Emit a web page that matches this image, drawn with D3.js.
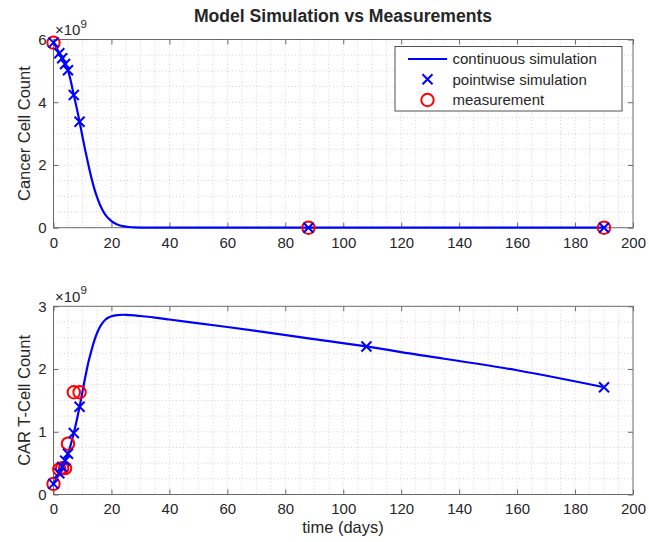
<!DOCTYPE html>
<html><head><meta charset="utf-8">
<script src="https://cdn.jsdelivr.net/npm/d3@7"></script>
<style>
body{margin:0;background:#fff}
svg{display:block}
text{font-family:"Liberation Sans",Arial,Helvetica,sans-serif;fill:#262626}
</style>
</head><body>
<svg id="c" width="649" height="542"></svg>
<script>
// ---- data (values in units of 1e9 cells, time in days) ----
const simTime   = [0,1,2,3,4,5,6,7,8,9,10,11,12,13,14,15,16,17,18,19,20,22,24,26,28,30,35,40,60,88,108,120,160,190];
const cancerSim = [5.90,5.75,5.56,5.40,5.22,5.02,4.66,4.23,3.82,3.38,2.90,2.45,2.02,1.62,1.27,0.98,0.74,0.55,0.40,0.29,0.21,0.10,0.05,0.022,0.010,0.005,0.001,0,0,0,0,0,0,0];
const tcellSim  = [0.17,0.25,0.34,0.44,0.54,0.65,0.80,0.98,1.18,1.40,1.64,1.88,2.10,2.28,2.44,2.57,2.67,2.74,2.79,2.82,2.84,2.86,2.865,2.86,2.855,2.845,2.82,2.79,2.67,2.49,2.36,2.27,1.98,1.71];

const cancerPtTime = [0,2,3,4,5,7,9,88,190];
const cancerPt     = [5.90,5.56,5.40,5.22,5.02,4.23,3.38,0,0];
const tcellPtTime  = [0,2,3,4,5,7,9,108,190];
const tcellPt      = [0.17,0.34,0.44,0.54,0.65,0.98,1.40,2.36,1.71];

const cancerMeasTime = [0,88,190];
const cancerMeas     = [5.90,0,0];
const tcellMeasTime  = [0,2,3,4,5,7,9];
const tcellMeas      = [0.17,0.40,0.42,0.42,0.81,1.63,1.63];

const xTicks = [0,20,40,60,80,100,120,140,160,180,200];
const cancerTicks = [0,2,4,6];
const tcellTicks = [0,1,2,3];

const titleText = "Model Simulation vs Measurements";
const legendLabels = ["continuous simulation","pointwise simulation","measurement"];

// ---- drawing ----
const svg = d3.select('#c');
const BLUE = '#0000ff', RED = '#ff0000', AX = '#6a6a6a';
const x = d3.scaleLinear().domain([0,200]).range([53.5,633]);
const fmt = d3.format('d');

function zip(a,b){ return a.map((v,i)=>[v,b[i]]); }

function panel(o){
  const y = d3.scaleLinear().domain(o.ydom).range(o.yr);
  const g = svg.append('g');
  const [x0,x1] = x.range(), [yb,yt] = o.yr;
  // minor dotted grid
  const grid = g.append('g').attr('stroke','#c8c8c8').attr('stroke-width',0.8).attr('stroke-dasharray','1,2.5');
  d3.range(0,201,5).slice(1,-1).forEach(v=>{
    grid.append('line').attr('x1',x(v)).attr('x2',x(v)).attr('y1',yt).attr('y2',yb);
  });
  d3.range(o.ydom[0], o.ydom[1]+1e-9, o.minor).slice(1,-1).forEach(v=>{
    grid.append('line').attr('x1',x0).attr('x2',x1).attr('y1',y(v)).attr('y2',y(v));
  });
  // axes
  const ax = g.append('g').attr('font-size',null);
  ax.append('g').attr('transform',`translate(0,${yb})`)
    .call(d3.axisBottom(x).tickValues(xTicks).tickFormat(fmt).tickSize(-5).tickPadding(9.3));
  ax.append('g').attr('transform',`translate(0,${yt})`)
    .call(d3.axisTop(x).tickValues(xTicks).tickSize(-5).tickFormat(''));
  ax.append('g').attr('transform',`translate(${x0},0)`)
    .call(d3.axisLeft(y).tickValues(o.ticks).tickFormat(fmt).tickSize(-5).tickPadding(7));
  ax.append('g').attr('transform',`translate(${x1},0)`)
    .call(d3.axisRight(y).tickValues(o.ticks).tickSize(-5).tickFormat(''));
  ax.selectAll('.domain').remove();
  ax.selectAll('.tick line').attr('stroke',AX);
  ax.selectAll('.tick text').attr('fill','#262626').style('font-size','15px')
    .style('font-family','"Liberation Sans",Arial,Helvetica,sans-serif');
  g.append('rect').attr('x',x0).attr('y',yt).attr('width',x1-x0).attr('height',yb-yt)
    .attr('fill','none').attr('stroke',AX).attr('stroke-width',1);
  // exponent label
  const ex = g.append('text').attr('x',55).attr('y',yt-4.5).style('font-size','15px');
  ex.append('tspan').text('\u00d710');
  ex.append('tspan').attr('dy',-7.5).style('font-size','11.5px').text('9');
  // y label
  g.append('text').attr('transform',`translate(30,${(yt+yb)/2}) rotate(-90)`)
    .attr('text-anchor','middle').style('font-size','16.5px').text(o.label);
  // continuous line
  g.append('path').datum(zip(simTime,o.sim))
    .attr('d',d3.line().x(d=>x(d[0])).y(d=>y(d[1])).curve(d3.curveMonotoneX))
    .attr('fill','none').attr('stroke',BLUE).attr('stroke-width',2.2);
  // measurements
  g.selectAll(null).data(zip(o.mt,o.mv)).join('circle')
    .attr('cx',d=>x(d[0])).attr('cy',d=>y(d[1])).attr('r',6.2)
    .attr('fill','none').attr('stroke',RED).attr('stroke-width',2);
  // pointwise
  const s = 5;
  g.selectAll(null).data(zip(o.pt,o.pv)).join('path')
    .attr('d',d=>{const cx=x(d[0]),cy=y(d[1]);return `M${cx-s},${cy-s}L${cx+s},${cy+s}M${cx-s},${cy+s}L${cx+s},${cy-s}`;})
    .attr('stroke',BLUE).attr('stroke-width',2).attr('fill','none');
  return y;
}

panel({ydom:[0,6], yr:[227.7,39.5], ticks:cancerTicks, minor:0.5, label:'Cancer Cell Count',
  sim:cancerSim, pt:cancerPtTime, pv:cancerPt, mt:cancerMeasTime, mv:cancerMeas});
panel({ydom:[0,3], yr:[494.5,306.3], ticks:tcellTicks, minor:0.25, label:'CAR T-Cell Count',
  sim:tcellSim, pt:tcellPtTime, pv:tcellPt, mt:tcellMeasTime, mv:tcellMeas});

// title
svg.append('text').attr('x',343).attr('y',21.5).attr('text-anchor','middle')
  .style('font-size','17.6px').style('font-weight','bold').text(titleText);

// x label
svg.append('text').attr('x',343).attr('y',532.5).attr('text-anchor','middle')
  .style('font-size','16.5px').text('time (days)');

// legend
const lg = svg.append('g');
lg.append('rect').attr('x',395).attr('y',46.5).attr('width',227).attr('height',64.5)
  .attr('fill','#fff').attr('stroke','#262626').attr('stroke-width',0.8);
const rows = [59,79.3,100];
lg.append('line').attr('x1',408).attr('x2',447).attr('y1',rows[0]).attr('y2',rows[0])
  .attr('stroke',BLUE).attr('stroke-width',2.2);
lg.append('path').attr('d',`M${427.5-5},${rows[1]-5}L${427.5+5},${rows[1]+5}M${427.5-5},${rows[1]+5}L${427.5+5},${rows[1]-5}`)
  .attr('stroke',BLUE).attr('stroke-width',2);
lg.append('circle').attr('cx',427.5).attr('cy',rows[2]).attr('r',6.2)
  .attr('fill','none').attr('stroke',RED).attr('stroke-width',2);
legendLabels.forEach((t,i)=>{
  lg.append('text').attr('x',452.5).attr('y',rows[i]).attr('dy','0.35em')
    .style('font-size','15px').text(t);
});
</script>
</body></html>
